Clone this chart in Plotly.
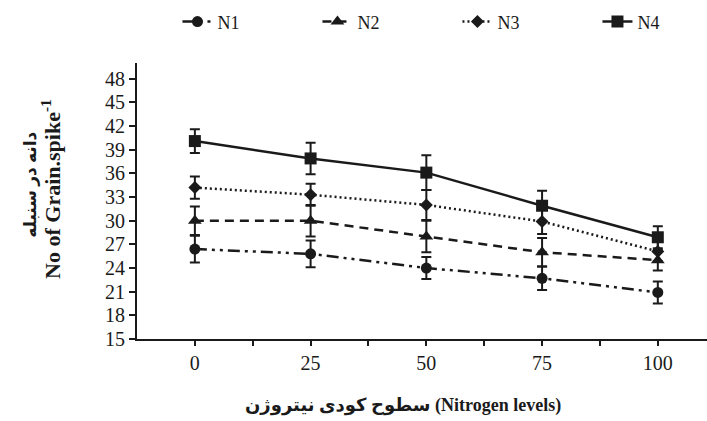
import plotly.graph_objects as go

# Nitrogen levels (x categories) and grain-per-spike means with error margins
levels = ["0", "25", "50", "75", "100"]
series_names = ["N1", "N2", "N3", "N4"]
n1 = [26.4, 25.8, 24.0, 22.7, 20.9]
n1_err = [1.7, 1.7, 1.4, 1.5, 1.4]
n2 = [30.0, 30.0, 28.0, 26.0, 25.0]
n2_err = [1.8, 2.0, 2.0, 1.8, 1.3]
n3 = [34.2, 33.3, 32.0, 29.9, 26.1]
n3_err = [1.4, 1.4, 1.9, 1.6, 1.2]
n4 = [40.1, 37.9, 36.1, 31.9, 27.9]
n4_err = [1.5, 2.0, 2.2, 1.9, 1.4]
y_ticks = [15, 18, 21, 24, 27, 30, 33, 36, 39, 42, 45, 48]

INK = "#1a1a1a"
SERIF = "Liberation Serif, Times New Roman, DejaVu Serif"
BOLD_MIX = "Liberation Serif, DejaVu Sans, serif"

x_idx = list(range(len(levels)))

styles = [
    (n1, n1_err, "circle", 11, "12px,5px,3px,5px,3px,5px"),
    (n2, n2_err, "triangle-up", 12, "9px,6px"),
    (n3, n3_err, "diamond", 10, "2px,3px"),
    (n4, n4_err, "square", 12, "solid"),
]

fig = go.Figure()
for name, (vals, errs, sym, size, dash) in zip(series_names, styles):
    fig.add_trace(go.Scatter(
        x=x_idx, y=vals, name=name, mode="lines+markers",
        line=dict(color=INK, width=2.5, dash=dash),
        marker=dict(symbol=sym, size=size, color=INK),
        error_y=dict(type="data", array=errs, visible=True,
                     color=INK, thickness=2, width=5),
    ))

fig.update_layout(
    width=707, height=421,
    margin=dict(l=137, r=0, t=63, b=82),
    paper_bgcolor="white", plot_bgcolor="white",
    font=dict(family=SERIF, color=INK, size=18),
    showlegend=True,
    legend=dict(orientation="h", x=0.251, xanchor="left", y=0.948, yanchor="middle",
                xref="container", yref="container", font=dict(size=18, family=SERIF),
                entrywidth=95, entrywidthmode="pixels", bgcolor="rgba(0,0,0,0)"),
    xaxis=dict(
        range=[-0.5, 4.425], tickmode="array",
        tickvals=[i * 0.5 for i in range(10)],
        ticktext=[levels[i // 2] if i % 2 == 0 else "" for i in range(10)],
        showline=True, linecolor=INK, linewidth=2,
        ticks="outside", ticklen=5, tickwidth=1.5, tickcolor=INK,
        showgrid=False, zeroline=False,
        tickfont=dict(size=20, family=SERIF),
    ),
    yaxis=dict(
        range=[15, 50], tickvals=y_ticks,
        showline=True, linecolor=INK, linewidth=2,
        ticks="outside", ticklen=6, tickwidth=1.5, tickcolor=INK,
        showgrid=False, zeroline=False,
        tickfont=dict(size=20, family=SERIF),
    ),
)

# y-axis title: Persian line and English line
fig.add_annotation(
    xref="paper", yref="paper", x=-0.187, y=0.56, xanchor="center", yanchor="middle",
    textangle=-90, showarrow=False,
    text="<b>دانه در سنبله</b>",
    font=dict(size=17, family=BOLD_MIX, color=INK),
)
fig.add_annotation(
    xref="paper", yref="paper", x=-0.152, y=0.545, xanchor="center", yanchor="middle",
    textangle=-90, showarrow=False,
    text="<b>No of Grain.spike<sup>-1</sup></b>",
    font=dict(size=22, family=SERIF, color=INK),
)
# x-axis title
fig.add_annotation(
    xref="paper", yref="paper", x=0.466, y=-0.24, xanchor="center", yanchor="middle",
    showarrow=False,
    text="<b>سطوح کودی نیتروژن (Nitrogen levels)</b>",
    font=dict(size=18, family=BOLD_MIX, color=INK),
)

fig.write_html("out.html")
